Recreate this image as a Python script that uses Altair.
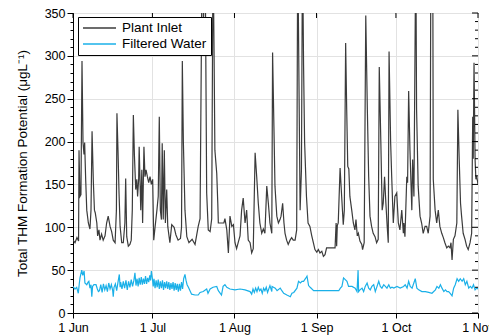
import altair as alt
import pandas as pd

# Total THM formation potential, June to October, two sampling points.
# Days are counted from 1 June.
inlet_day = [
    0.0, 0.75, 1.5, 2.1, 2.27, 2.64, 3.0, 3.4, 3.78, 4.16,
    4.4, 4.8, 5.2, 5.8, 6.4, 6.8, 7.2, 7.7, 8.1, 8.4,
    9.0, 9.3, 9.8, 10.2, 10.8, 11.4, 12.1, 12.7, 13.3, 14.0,
    14.6, 15.2, 15.9, 16.4, 16.6, 17.0, 17.4, 17.8, 18.4, 19.0,
    19.6, 19.9, 20.3, 20.9, 21.5, 22.0, 22.4, 22.8, 23.2, 23.7,
    24.1, 24.4, 24.8, 25.0, 25.6, 26.0, 26.3, 26.8, 27.2, 27.6,
    28.1, 28.6, 29.1, 29.6, 30.1, 30.5, 31.0, 31.7, 32.2, 32.6,
    33.0, 33.4, 33.7, 34.1, 34.5, 34.9, 35.4, 35.8, 36.6, 37.3,
    38.2, 38.9, 39.7, 40.6, 41.0, 41.3, 41.7, 42.3, 43.0, 43.8,
    45.0, 46.1, 47.3, 48.0, 48.8, 49.3, 49.9, 50.5, 51.1, 51.8,
    52.4, 52.9, 53.3, 53.6, 54.3, 54.7, 54.9, 57.0, 57.4, 58.1,
    58.7, 59.3, 60.0, 60.6, 61.2, 61.8, 62.4, 63.1, 63.7, 64.3,
    65.0, 65.6, 66.2, 66.9, 67.5, 68.1, 68.8, 69.4, 70.0, 70.6,
    71.3, 71.9, 72.5, 73.2, 73.8, 74.4, 75.1, 75.4, 75.9, 76.3,
    77.0, 77.6, 78.2, 78.6, 79.2, 79.7, 80.1, 80.7, 81.3, 82.0,
    82.6, 83.2, 83.9, 84.5, 84.9, 85.8, 86.3, 86.7, 87.1, 87.5,
    88.2, 88.8, 89.5, 90.2, 90.8, 91.4, 92.1, 92.7, 93.3, 94.0,
    94.6, 95.2, 95.8, 99.0, 99.4, 99.6, 99.85, 100.2, 100.9, 101.5,
    102.1, 102.5, 103.0, 103.4, 103.8, 104.2, 104.6, 105.3, 105.9, 106.5,
    106.9, 107.4, 107.8, 108.4, 109.1, 109.4, 110.0, 110.6, 111.2, 111.7,
    112.2, 112.8, 113.4, 114.1, 114.7, 115.3, 115.7, 116.3, 116.8, 117.2,
    117.7, 118.2, 118.7, 119.1, 119.4, 120.0, 120.4, 121.0, 121.6, 122.3,
    122.9, 123.5, 124.2, 124.8, 125.0, 125.4, 126.1, 126.4, 126.8, 127.3,
    128.0, 128.3, 128.8, 129.5, 129.8, 130.4, 131.1, 131.7, 132.3, 133.0,
    133.6, 134.2, 134.9, 135.2, 135.9, 136.1, 136.8, 137.4, 138.0, 138.6,
    139.3, 139.9, 140.5, 141.2, 141.8, 142.4, 142.8, 143.2, 143.7, 144.3,
    145.0, 145.4, 145.9, 146.4, 146.8, 147.4, 148.1, 148.7, 149.3, 150.0,
    150.6, 151.0, 151.2, 151.5, 151.9, 152.2, 152.5, 153.0,
]
inlet_thm = [
    85, 82, 88, 84, 190, 136, 138, 294, 199, 185,
    199, 155, 120, 105, 98, 120, 212, 152, 120, 117,
    105, 90, 97, 85, 92, 85, 90, 105, 113, 101,
    95, 85, 82, 120, 233, 190, 139, 101, 82, 82,
    105, 157, 89, 78, 80, 85, 120, 231, 184, 144,
    156, 136, 156, 194, 120, 167, 105, 194, 159, 167,
    159, 152, 159, 150, 156, 85, 100, 120, 136, 229,
    120, 109, 198, 109, 190, 105, 144, 101, 82, 103,
    100, 91, 85, 87, 100, 294, 199, 120, 89, 82,
    86, 80, 101, 110, 430, 340, 430, 140, 97, 95,
    110, 430, 300, 190, 163, 128, 105, 105, 110, 97,
    70, 113, 101, 103, 82, 75, 82, 90, 120, 134,
    105, 120, 85, 82, 70, 75, 187, 159, 128, 105,
    93, 98, 93, 148, 128, 105, 93, 304, 218, 148,
    113, 105, 109, 113, 128, 105, 93, 85, 80, 85,
    88, 85, 85, 97, 430, 120, 167, 430, 290, 199,
    136, 105, 101, 90, 82, 74, 71, 74, 70, 72,
    66, 68, 76, 76, 105, 78, 102, 105, 169, 136,
    103, 120, 315, 237, 171, 168, 136, 120, 105, 97,
    109, 90, 93, 84, 80, 74, 82, 347, 237, 159,
    113, 101, 93, 89, 82, 86, 287, 199, 120, 128,
    159, 128, 101, 82, 305, 199, 159, 105, 136, 140,
    105, 97, 120, 93, 105, 89, 159, 152, 259, 190,
    120, 179, 136, 430, 237, 148, 113, 105, 93, 101,
    101, 93, 113, 430, 430, 156, 120, 105, 120, 101,
    93, 88, 82, 76, 78, 76, 82, 62, 86, 90,
    105, 237, 179, 128, 113, 93, 86, 78, 74, 82,
    93, 229, 180, 292, 179, 156, 160, 150,
]

filt_day = [
    0.0, 0.75, 1.4, 2.0, 2.4, 2.64, 3.3, 3.7, 4.2, 4.5,
    5.2, 5.7, 6.0, 6.4, 6.8, 7.1, 7.4, 7.9, 8.7, 9.2,
    9.6, 10.0, 10.5, 11.0, 11.5, 12.0, 12.5, 13.0, 13.5, 14.0,
    14.5, 15.0, 15.2, 15.5, 16.0, 16.5, 17.0, 17.5, 17.8, 18.0,
    18.5, 19.0, 19.5, 20.0, 20.5, 21.0, 21.5, 22.0, 22.5, 23.0,
    23.4, 23.8, 24.2, 24.6, 25.0, 25.4, 25.8, 26.2, 26.6, 27.0,
    27.4, 27.8, 28.2, 28.6, 29.0, 29.3, 29.6, 30.0, 30.3, 30.6,
    31.0, 31.4, 31.8, 32.2, 32.6, 33.0, 33.4, 33.8, 34.2, 34.6,
    35.0, 35.4, 35.8, 36.2, 36.6, 37.0, 37.4, 37.8, 38.2, 38.6,
    39.0, 39.4, 39.8, 40.2, 40.6, 41.0, 41.4, 41.8, 42.3, 42.7,
    43.1, 43.6, 44.2, 44.8, 46.1, 47.3, 48.0, 49.2, 50.5, 51.0,
    51.8, 52.9, 54.3, 54.9, 56.1, 56.7, 57.4, 58.1, 59.3, 61.2,
    63.1, 65.0, 66.9, 67.5, 68.0, 68.5, 69.0, 69.5, 70.0, 70.5,
    71.0, 71.5, 72.0, 72.5, 73.0, 73.5, 74.4, 75.1, 75.2, 76.4,
    77.1, 78.3, 78.9, 79.6, 80.8, 82.1, 82.7, 83.4, 84.6, 85.2,
    85.9, 86.5, 87.1, 87.8, 88.4, 89.0, 89.6, 90.9, 100.4, 101.0,
    101.6, 102.2, 103.5, 104.1, 105.4, 106.6, 107.3, 107.7, 107.9, 108.4,
    109.2, 109.8, 110.4, 111.1, 111.7, 112.3, 112.9, 113.6, 114.2, 115.5,
    116.1, 116.7, 117.4, 118.0, 118.6, 119.3, 119.9, 120.5, 121.2, 122.4,
    123.6, 124.9, 125.5, 126.2, 126.8, 127.4, 128.1, 129.3, 129.9, 130.6,
    131.8, 133.1, 134.4, 135.6, 136.9, 137.5, 138.2, 138.8, 139.4, 140.1,
    140.7, 141.3, 141.9, 142.5, 143.2, 143.8, 144.4, 145.1, 145.7, 146.3,
    147.0, 147.6, 148.2, 148.8, 149.5, 150.1, 150.7, 151.3, 151.9, 152.5,
    153.0,
]
filt_thm = [
    31, 28, 30, 23, 35, 41, 50, 44, 49, 35,
    33, 36, 37, 29, 33, 19, 31, 33, 33, 28,
    25, 26, 33, 24, 34, 27, 32, 25, 35, 28,
    33, 26, 19, 30, 34, 26, 36, 45, 30, 36,
    28, 37, 29, 38, 27, 37, 30, 39, 31, 38,
    47, 32, 40, 31, 41, 33, 42, 33, 40, 34,
    43, 34, 41, 36, 44, 38, 49, 40, 31, 40,
    29, 38, 30, 39, 28, 37, 29, 38, 27, 36,
    29, 37, 28, 36, 27, 35, 28, 36, 26, 35,
    27, 34, 25, 34, 26, 36, 28, 40, 45, 38,
    33, 30, 26, 22, 21, 21, 24, 25, 28, 23,
    28, 30, 31, 26, 21, 31, 33, 30, 28, 27,
    28, 27, 25, 22, 28, 24, 29, 25, 30, 26,
    28, 23, 29, 26, 30, 24, 32, 25, 31, 29,
    26, 29, 26, 23, 21, 19, 23, 24, 29, 37,
    35, 37, 37, 40, 43, 32, 30, 26, 26, 29,
    31, 41, 37, 31, 31, 29, 25, 50, 25, 27,
    29, 25, 31, 35, 29, 27, 31, 33, 25, 37,
    31, 29, 33, 31, 29, 33, 29, 30, 29, 31,
    29, 31, 33, 29, 37, 31, 29, 40, 29, 27,
    25, 25, 24, 23, 27, 31, 29, 33, 29, 25,
    27, 25, 25, 23, 20, 29, 33, 40, 37, 40,
    37, 40, 33, 37, 29, 31, 29, 33, 27, 29,
    28,
]

series_names = ["Plant Inlet", "Filtered Water"]
series_colors = ["#3b3b3b", "#1ab0e8"]
month_starts = [(2013, 6), (2013, 7), (2013, 8), (2013, 9), (2013, 10), (2013, 11)]
y_major = list(range(0, 351, 50))
y_minor = [v for v in range(0, 351, 10) if v % 50]

W, H = 405, 300
start = pd.Timestamp("2013-06-01")


def series_frame(days, values, name):
    return pd.DataFrame({
        "date": start + pd.to_timedelta(days, unit="D"),
        "thm": values,
        "series": name,
    })


data = pd.concat([
    series_frame(inlet_day, inlet_thm, series_names[0]),
    series_frame(filt_day, filt_thm, series_names[1]),
], ignore_index=True)

month_dt = [alt.DateTime(year=y, month=m, date=1) for y, m in month_starts]
months_df = pd.DataFrame({"date": [pd.Timestamp(year=y, month=m, day=1) for y, m in month_starts]})

x_scale = alt.Scale(domain=[month_dt[0], month_dt[-1]])
y_scale = alt.Scale(domain=[0, 350], nice=False, zero=False)

is_major = "datum.value % 50 === 0"

x_axis = alt.Axis(
    values=month_dt, format="%-d %b", title=None, tickSize=5,
    labelPadding=3, grid=True, labelFlush=False,
)
y_axis = alt.Axis(
    values=list(range(0, 351, 10)),
    labelExpr=f"{is_major} ? datum.label : ''",
    tickSize={"condition": {"test": is_major, "value": 6}, "value": 3},
    gridOpacity={"condition": {"test": is_major, "value": 1}, "value": 0},
    title="Total THM Formation Potential (\u03bcgL\u207b\u00b9)",
    titlePadding=15,
    labelPadding=2,
    grid=True,
)

lines = alt.Chart(data).mark_line(clip=True, strokeWidth=1.2).encode(
    x=alt.X("date:T", scale=x_scale, axis=x_axis),
    y=alt.Y("thm:Q", scale=y_scale, axis=y_axis),
    color=alt.Color(
        "series:N",
        sort=series_names,
        scale=alt.Scale(domain=series_names, range=series_colors),
        legend=alt.Legend(
            title=None, orient="none", legendX=5, legendY=4,
            symbolType="stroke", symbolSize=1090, symbolStrokeWidth=1.5,
            clipHeight=14, rowPadding=2, labelFontSize=13.5, labelOffset=5,
            labelColor="black", fillColor="white", strokeColor="black",
            padding=4, cornerRadius=0,
        ),
    ),
)

# inward ticks along the right edge (same fields and axes as the lines)
right_major = alt.Chart(pd.DataFrame({"thm": y_major})).mark_rule(color="black", strokeWidth=1).encode(
    y=alt.Y("thm:Q", scale=y_scale, axis=y_axis),
    x=alt.value(W - 6), x2=alt.value(W),
)
right_minor = alt.Chart(pd.DataFrame({"thm": y_minor})).mark_rule(color="black", strokeWidth=1).encode(
    y=alt.Y("thm:Q", scale=y_scale, axis=y_axis),
    x=alt.value(W - 3), x2=alt.value(W),
)
# inward ticks along the top edge
top_ticks = alt.Chart(months_df).mark_rule(color="black", strokeWidth=1).encode(
    x=alt.X("date:T", scale=x_scale, axis=x_axis),
    y=alt.value(0), y2=alt.value(5),
)

chart = alt.layer(lines, right_major, right_minor, top_ticks).properties(
    width=W, height=H,
    autosize=alt.AutoSizeParams(type="none"),
    padding={"left": 73, "top": 13, "right": 11, "bottom": 23},
).configure(
    font="Liberation Sans",
).configure_view(
    stroke="black", strokeWidth=1,
).configure_axis(
    domainColor="black", tickColor="black", labelColor="black", titleColor="black",
    labelFontSize=12.5, titleFontSize=13.5, titleFontWeight="normal",
    gridColor="#e2e2e2", gridWidth=1,
).configure_legend(
    labelFont="Liberation Sans",
)

chart.save("out.html", embed_options={"renderer": "svg", "actions": False})
